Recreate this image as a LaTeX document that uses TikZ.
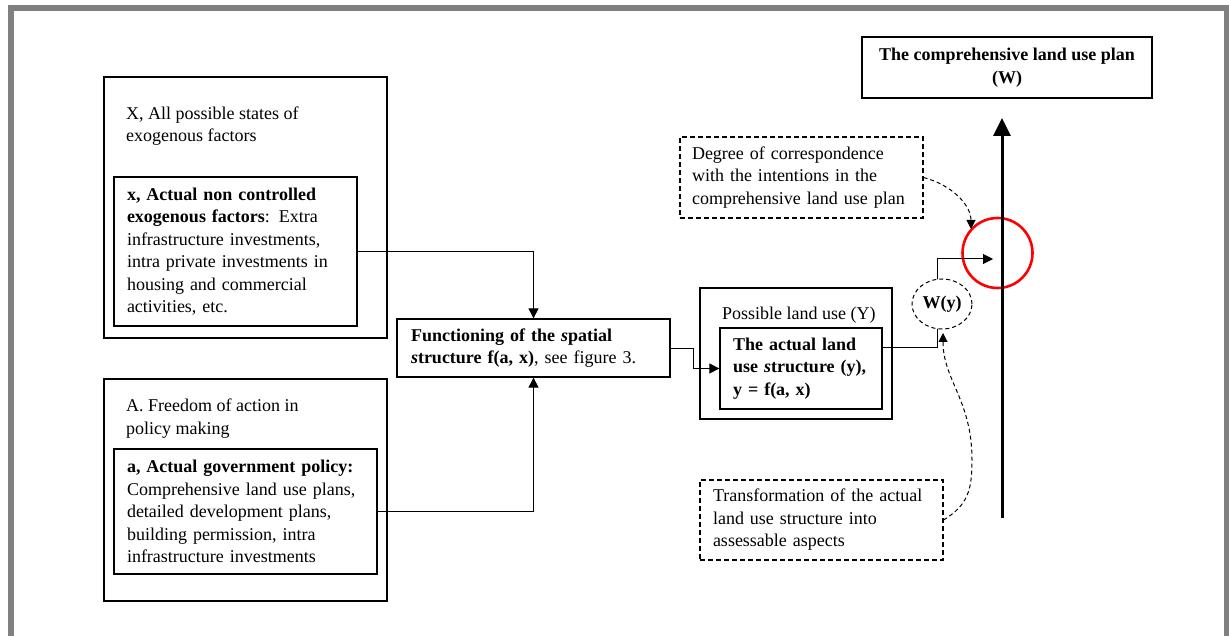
\documentclass[tikz,border=0pt]{standalone}
\usepackage{fontspec}
\setmainfont{Liberation Serif}
\usetikzlibrary{arrows.meta,shapes.geometric}
\newcommand\dfont{\fontsize{18}{22.5}\selectfont}
\definecolor{framegray}{RGB}{128,128,128}
\begin{document}
\begin{tikzpicture}[x=1pt,y=1pt,
  box/.style={draw, line width=1.3pt, inner sep=0pt, fill=white},
  tbox/.style={draw, line width=1.3pt, inner ysep=0pt, font=\dfont, align=left},
  dbox/.style={draw, line width=1.1pt, dash pattern=on 5pt off 3pt, inner ysep=0pt, font=\dfont, align=left},
  txt/.style={font=\dfont, align=left, inner sep=0pt},
  arr/.style={-{Triangle[width=10pt,length=10pt]}, line width=1pt},
  darr/.style={-{Triangle[width=9pt,length=9pt]}, line width=1pt, dash pattern=on 4pt off 3pt},
  bigarr/.style={-{Triangle[width=17pt,length=18pt]}, line width=3pt}]
\useasboundingbox (0,0) rectangle (1229,-636);
% frame
\fill[framegray] (8,-5) rectangle (1229,-11);
\fill[framegray] (8,-5) rectangle (14,-636);
\fill[framegray] (1224,-5) rectangle (1229,-636);

% left column
\node[box, minimum width=283, minimum height=261] (Xbox) at (245.5,-207.5) {};
\node[txt, anchor=west] (Xlab) at (126,-126) {X, All possible states of\\exogenous factors};
\node[tbox, inner xsep=13pt, text width=217pt, minimum height=149] (xbox) at (235.5,-251.5)
  {\textbf{x, Actual non controlled}\\\textbf{exogenous factors}: Extra\\infrastructure investments,\\intra private investments in\\housing and commercial\\activities, etc.};

\node[box, minimum width=283, minimum height=222] (Abox) at (245.5,-490) {};
\node[txt, anchor=west] (Alab) at (126,-418.5) {A. Freedom of action in\\policy making};
\node[tbox, inner xsep=13pt, text width=237pt, minimum height=125] (abox) at (245.5,-511.5)
  {\textbf{a, Actual government policy:}\\Comprehensive land use plans,\\detailed development plans,\\building permission, intra\\infrastructure investments};

% function box
\node[tbox, inner xsep=14pt, text width=245pt, minimum height=58] (fbox) at (533.5,-348)
  {\textbf{Functioning of the \textit{s}patial}\\\textbf{\textit{s}tructure f(a, x)}, see figure 3.};

\draw[arr] (xbox.east) -| (fbox.north);
\draw[arr] (abox.east) -| (fbox.south);

% possible land use
\node[box, minimum width=192, minimum height=131] (Ybox) at (796,-353.5) {};
\node[txt, anchor=west] (Ylab) at (722,-315) {Possible land use (Y)};
\node[tbox, inner xsep=13pt, text width=136pt, minimum height=81] (ybox) at (801,-368.5)
  {\textbf{The actual land}\\\textbf{use \textit{s}tructure (y),}\\\textbf{y = f(a, x)}};

\draw[arr] (fbox.east) -- ++(23,0) |- (ybox.west);

% right part
\node[draw=red, line width=2.6pt, circle, minimum size=70, inner sep=0pt] (rc) at (997.5,-253) {};
\coordinate (vbot) at (1002,-518);
\coordinate (vtop) at (1002,-118);
\draw[bigarr] (vbot) -- (vtop);

\node[tbox, align=center, inner xsep=0pt, minimum width=290, minimum height=61, font=\dfont\bfseries] (Wbox) at (1007,-67.5)
  {The comprehensive land use plan\\(W)};

\coordinate (tip) at (993,-259);
\draw[arr] ([yshift=21.5pt]ybox.east) -- ++(55,0) |- (tip);
\node[ellipse, draw, fill=white, line width=1pt, dash pattern=on 4pt off 3pt, minimum width=60, minimum height=50, inner sep=0pt, font=\dfont\bfseries] (Wy) at (942,-304) {W(y)};

\node[dbox, inner xsep=12pt, text width=219pt, minimum height=81] (deg) at (801.5,-177.5)
  {Degree of correspondence\\with the intentions in the\\comprehensive land use plan};
\coordinate (tip2) at (971,-229);
\draw[darr] (deg.east) .. controls (952,-185) and (971,-205) .. (tip2);

\node[dbox, inner xsep=13pt, text width=217pt, minimum height=80] (trans) at (821.5,-520)
  {Transformation of the actual\\land use structure into\\assessable aspects};
\coordinate (tip3) at (943,-333);
\draw[darr] (trans.east) .. controls (968,-505) and (972,-490) .. (972,-460) .. controls (972,-400) and (943,-380) .. (tip3);
\end{tikzpicture}
\end{document}
